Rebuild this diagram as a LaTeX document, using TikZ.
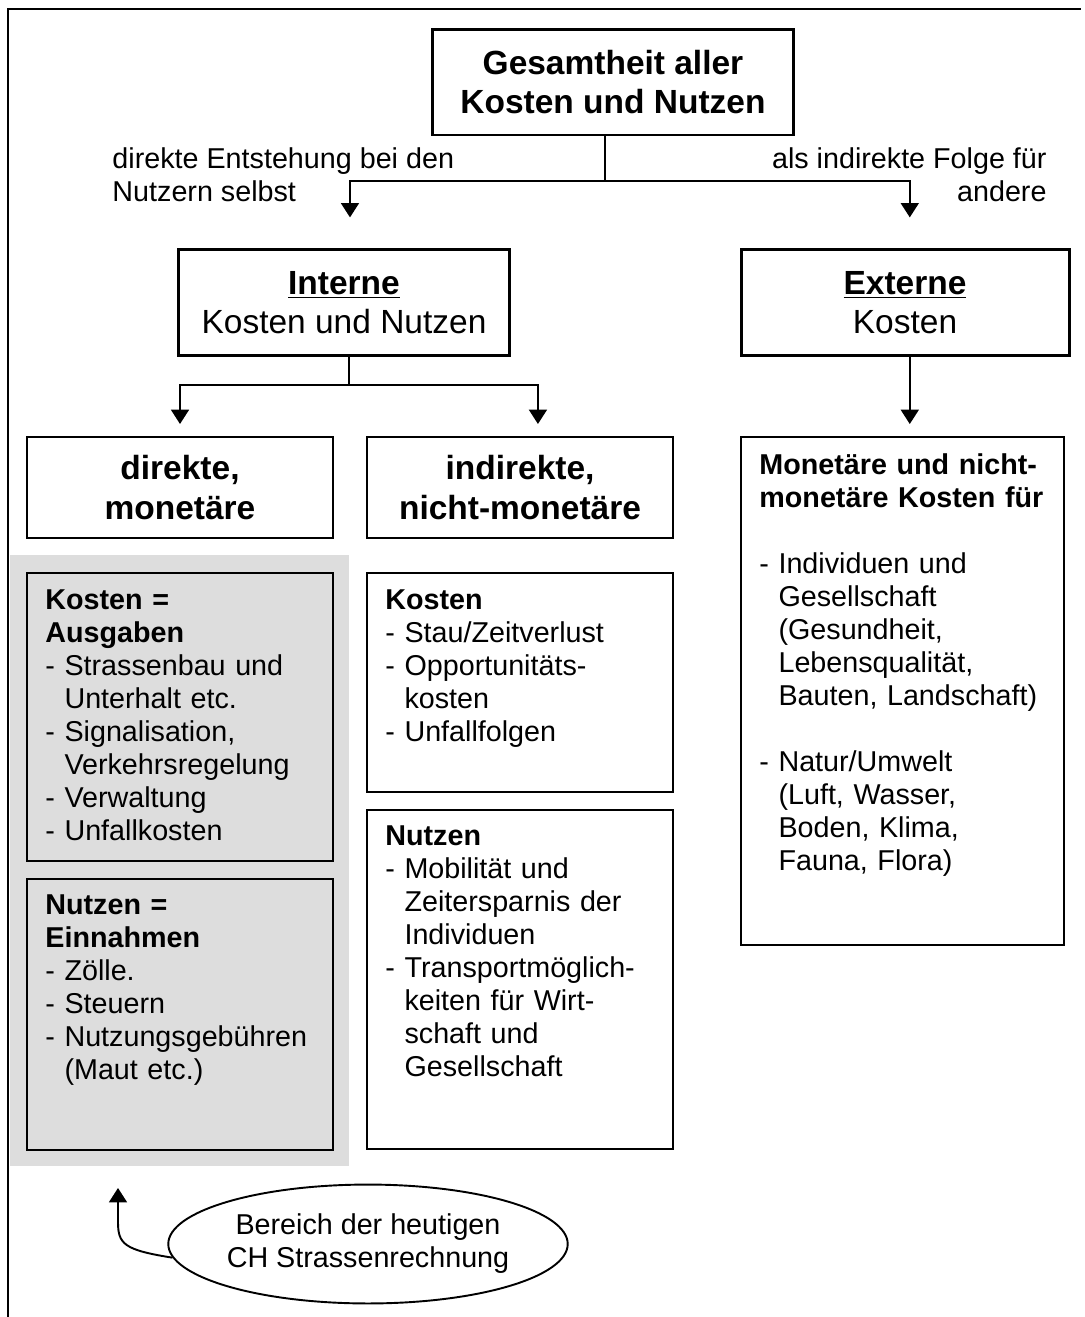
\documentclass[tikz,border=0pt]{standalone}
\usepackage{fontspec}
\setmainfont{Liberation Sans}
\usepackage{tikz}
\usetikzlibrary{shapes.geometric, arrows.meta, positioning, calc}
\definecolor{areagray}{HTML}{DDDDDD}
\newcommand{\bodysize}{\fontsize{12pt}{13.8pt}\selectfont}
\newcommand{\headsize}{\fontsize{14pt}{16.4pt}\selectfont}
\newcommand{\contline}{\phantom{- }}

\begin{document}
\begin{tikzpicture}[x=0.418pt, y=-0.418pt,
  levelbox/.style={draw, line width=1.25pt, align=center, font=\headsize},
  catbox/.style={draw, line width=0.9pt, align=center, font=\headsize\bfseries,
                 minimum width=127.9pt, minimum height=42.2pt},
  listbox/.style={draw, line width=0.9pt, inner sep=0pt},
  listtxt/.style={anchor=north west, inner sep=0pt, text width=135pt, align=left, font=\bodysize},
  conn/.style={line width=0.8pt},
  arr/.style={conn, -{Triangle[width=7.5pt,length=6pt]}}]
  \useasboundingbox (0,0) rectangle (1085,1317);

  % Frame (top and left edge only)
  \draw[line width=0.6pt] (8,1317) -- (8,9) -- (1081,9);

  % Shaded area: today's Swiss road account
  \fill[areagray] (10,555) rectangle (349,1166);

  % ===== Top level =====
  \node[levelbox, font=\headsize\bfseries, minimum width=150.5pt, minimum height=44.3pt]
        (gesamt) at (613,82) {Gesamtheit aller\\Kosten und Nutzen};

  \node[font=\bodysize, align=left, anchor=north west, inner sep=0pt] (lblint) at (112,147)
        {direkte Entstehung bei den\\Nutzern selbst};
  \node[font=\bodysize, align=right, anchor=north east, inner sep=0pt] (lblext) at (1047,147)
        {als indirekte Folge für\\andere};

  % ===== Second level =====
  \node[levelbox, minimum width=138pt, minimum height=43.9pt] (intern) at (344,302.5)
        {{\bfseries\underline{Interne}}\\Kosten und Nutzen};
  \node[levelbox, minimum width=137.1pt, minimum height=43.9pt] (extern) at (905,302.5)
        {{\bfseries\underline{Externe}}\\Kosten};

  \coordinate (fork1) at (605,181);
  \draw[conn] (gesamt.south -| fork1) -- (fork1);
  \draw[arr, shorten >=13pt] (fork1) -| ([xshift=2.5pt]intern.north);
  \draw[arr, shorten >=13pt] (fork1) -| ([xshift=2pt]extern.north);

  % ===== Third level =====
  \node[catbox] (direkt) at (180,487.5) {direkte,\\monetäre};
  \node[catbox] (indirekt) at (520,487.5) {indirekte,\\nicht-monetäre};
  \node[listbox, minimum width=135pt, minimum height=212.3pt] (extbox) at (902.5,691) {};

  \coordinate (fork2) at (349,385);
  \draw[conn] (intern.south -| fork2) -- (fork2);
  \draw[arr, shorten >=5pt] (fork2) -| (direkt.north);
  \draw[arr, shorten >=5pt] (fork2) -| ([xshift=7.5pt]indirekt.north);
  \draw[arr, shorten >=5pt] ([xshift=2pt]extern.south) -- ([xshift=2pt]extern.south |- extbox.north);

  % ===== Detail boxes =====
  \node[listbox, fill=areagray, minimum width=127.9pt, minimum height=120.4pt] (kostA) at (180,717) {};
  \node[listbox, fill=areagray, minimum width=127.9pt, minimum height=113.3pt] (nutzE) at (180,1014.5) {};
  \node[listbox, minimum width=127.9pt, minimum height=91.5pt] (kostI) at (520,682.5) {};
  \node[listbox, minimum width=127.9pt, minimum height=141.7pt] (nutzI) at (520,979.5) {};

  \node[listtxt] (kostAtxt) at ([shift={(19,17)}]kostA.north west)
        {\textbf{Kosten =}\\\textbf{Ausgaben}\\- Strassenbau und\\\contline Unterhalt etc.\\- Signalisation,\\\contline Verkehrsregelung\\- Verwaltung\\- Unfallkosten};
  \node[listtxt] (nutzEtxt) at ([shift={(19,16)}]nutzE.north west)
        {\textbf{Nutzen =}\\\textbf{Einnahmen}\\- Zölle.\\- Steuern\\- Nutzungsgebühren\\\contline (Maut etc.)};
  \node[listtxt] (kostItxt) at ([shift={(19,17)}]kostI.north west)
        {\textbf{Kosten}\\- Stau/Zeitverlust\\- Opportunitäts-\\\contline kosten\\- Unfallfolgen};
  \node[listtxt] (nutzItxt) at ([shift={(19,16)}]nutzI.north west)
        {\textbf{Nutzen}\\- Mobilität und\\\contline Zeitersparnis der\\\contline Individuen\\- Transportmöglich-\\\contline keiten für Wirt-\\\contline schaft und\\\contline Gesellschaft};
  \node[listtxt] (exttxt) at ([shift={(19,17)}]extbox.north west)
        {\textbf{Monetäre und nicht-}\\\textbf{monetäre Kosten für}\\[13.8pt]- Individuen und\\\contline Gesellschaft\\\contline (Gesundheit,\\\contline Lebensqualität,\\\contline Bauten, Landschaft)\\[13.8pt]- Natur/Umwelt\\\contline (Luft, Wasser,\\\contline Boden, Klima,\\\contline Fauna, Flora)};

  % ===== Annotation =====
  \node[ellipse, draw, line width=0.8pt, inner sep=0pt, minimum width=162.6pt, minimum height=49.7pt,
        align=center, font=\bodysize] (bereich) at (368,1244) {Bereich der heutigen\\CH Strassenrechnung};
  \draw[arr] (bereich.184) .. controls (124,1250) and (118,1244) .. (118,1222) -- (118,1188);
\end{tikzpicture}
\end{document}
